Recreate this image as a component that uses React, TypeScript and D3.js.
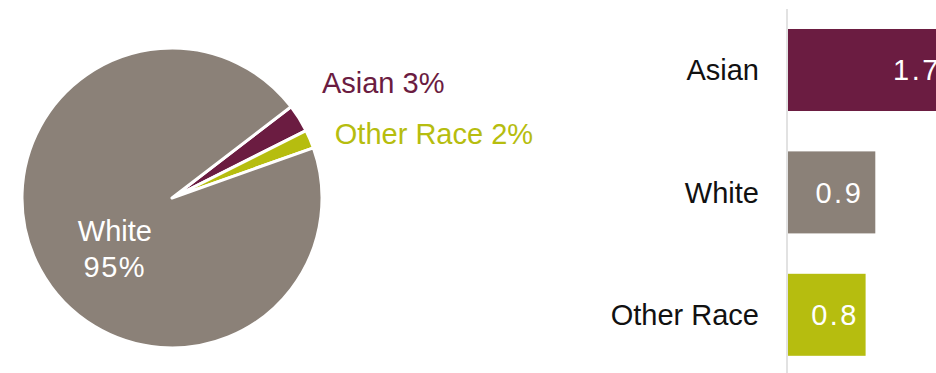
import React from "react";
import * as d3 from "d3";

const pieCategories = ["Asian", "Other Race", "White"];
const pieValues = [3, 2, 95];
const pieColors = ["#6b1c41", "#b6bd0f", "#8b8178"];

const barCategories = ["Asian", "White", "Other Race"];
const barValues = [1.7, 0.9, 0.8];
const barColors = ["#6b1c41", "#8b8178", "#b6bd0f"];

const W = 936;
const H = 373;
const FONT = "'Liberation Sans', Arial, sans-serif";

export default function App() {
  const cx = 172;
  const cy = 198;
  const r = 150;
  const start = (52.5 * Math.PI) / 180;
  const pie = d3
    .pie<number>()
    .sort(null)
    .startAngle(start)
    .endAngle(start + 2 * Math.PI)(pieValues);
  const arc = d3.arc<d3.PieArcDatum<number>>().innerRadius(0).outerRadius(r);

  const polar = (a: number, R: number) => [Math.sin(a) * R, -Math.cos(a) * R];

  // bar chart
  const x = d3.scaleLinear().domain([0, 1]).range([788, 885]);
  const y = d3
    .scaleBand<string>()
    .domain(barCategories)
    .range([8.8, 376])
    .paddingInner(0.33)
    .paddingOuter(0.165);

  const outsideLabelOffsets = [
    [0, -21],
    [0, 5],
  ];

  return (
    <svg
      width={W}
      height={H}
      style={{ position: "absolute", left: 0, top: 0, fontFamily: FONT }}
    >
      <g transform={`translate(${cx},${cy})`}>
        {pie.map((d, i) => (
          <path
            key={i}
            d={arc(d) || ""}
            fill={pieColors[i]}
            stroke="#fff"
            strokeWidth={3}
            strokeLinejoin="round"
          />
        ))}
        {pie.slice(0, 2).map((d, i) => {
          const mid = (d.startAngle + d.endAngle) / 2;
          const [px, py] = polar(mid, 177);
          return (
            <text
              key={i}
              x={px + outsideLabelOffsets[i][0]}
              y={py + outsideLabelOffsets[i][1]}
              fill={pieColors[i]}
              fontSize={29}
              dominantBaseline="central"
              textAnchor="start"
            >
              {`${pieCategories[i]} ${pieValues[i]}%`}
            </text>
          );
        })}
        {(() => {
          const d = pie[2];
          const mid = (d.startAngle + d.endAngle) / 2;
          const [px, py] = polar(mid, 65);
          return (
            <text
              x={px}
              y={py}
              fill="#fff"
              fontSize={29}
              textAnchor="middle"
            >
              <tspan x={px} y={py + 12}>
                {pieCategories[2]}
              </tspan>
              <tspan x={px} y={py + 48} letterSpacing={1.5}>
                {`${pieValues[2]}%`}
              </tspan>
            </text>
          );
        })()}
      </g>

      <line
        x1={x(0) - 1}
        x2={x(0) - 1}
        y1={9}
        y2={H}
        stroke="#d9d9d9"
        strokeWidth={1.5}
      />
      {barCategories.map((c, i) => {
        const by = y(c)!;
        const bh = y.bandwidth();
        const end = x(barValues[i]);
        const labelEnd = Math.max(end - 12, x(0) + 71);
        return (
          <g key={c}>
            <rect
              x={x(0)}
              y={by}
              width={end - x(0)}
              height={bh}
              fill={barColors[i]}
            />
            <text
              x={759}
              y={by + bh / 2 + 10.4}
              fontSize={29}
              fill="#111"
              textAnchor="end"
            >
              {c}
            </text>
            <text
              x={labelEnd}
              y={by + bh / 2 + 10.4}
              fontSize={29}
              fill="#fff"
              textAnchor="end"
              letterSpacing={2.5}
            >
              {d3.format(".1f")(barValues[i])}
            </text>
          </g>
        );
      })}
    </svg>
  );
}
